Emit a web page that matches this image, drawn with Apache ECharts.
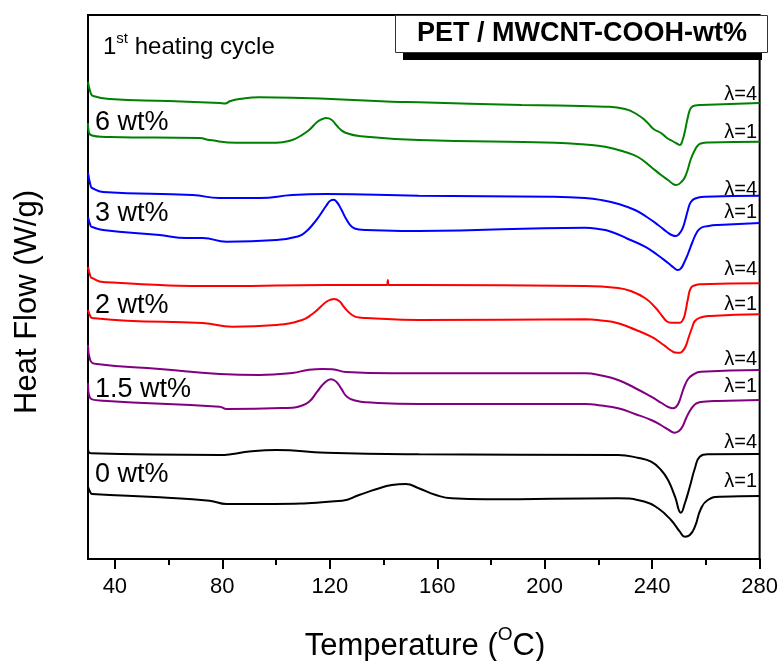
<!DOCTYPE html>
<html>
<head>
<meta charset="utf-8">
<script src="https://cdn.jsdelivr.net/npm/echarts@6/dist/echarts.min.js"></script>
<style>html,body{margin:0;padding:0;background:#fff}#c{width:781px;height:661px}</style>
</head>
<body>
<div id="c"></div>
<script>
// Temperature (°C) vs. heat flow (stacked/offset, arbitrary units)
const xTicks = [40, 80, 120, 160, 200, 240, 280];
const xMinorTicks = [60, 100, 140, 180, 220, 260];

const green4 = [[30.0,477],[31.0,466],[31.9,463],[38.2,460],[60,458],[79.0,456],[81.0,455.5],[83,458],[86.4,460],[93.8,461.7],[106.0,461.3],[143.1,457.3],[153.1,456.7],[191.4,454],[222.5,452.3],[229.9,450],[234.7,444],[238,437],[240.5,430],[243.3,426],[245.5,421],[247.5,418],[249.5,415],[250.3,414],[251.2,418],[252.2,428],[253.3,442],[254.4,451],[256,453.5],[258.1,454],[280,456]];
const green1 = [[30.0,436],[31.0,424],[38.2,422],[71.5,421],[75.3,419],[85.3,416.3],[100.1,416.3],[106.0,419],[109,423],[112.3,429],[115.3,437],[117.3,440],[118.6,441],[120.5,439.5],[122.4,434],[124.2,429],[126.1,426],[130.9,423],[153.1,419],[204.0,416.3],[215,414.5],[222.5,412.3],[229.9,407],[234.7,402],[239.6,392],[243.3,384],[245.9,379],[247.5,375.5],[248.8,374],[250.0,375],[251.2,378],[252.2,382],[253.3,390],[254.4,400],[255.9,409],[257.0,413.5],[258.1,415.5],[261,416.5],[280,417.3]];
const blue4 = [[30.0,386],[31.0,373],[31.5,371],[35.6,367],[68.9,364],[79.0,361],[93.8,361],[106.0,364],[118.6,365],[153.1,363.3],[202.5,362.3],[215,361],[221.0,359],[227.5,355],[233.6,349],[238,342],[242.2,334],[245.5,327],[247.7,323.5],[248.8,323],[250,325],[251.2,330],[252.2,338],[253.3,349],[254.4,357],[256,360.5],[259.6,362.3],[280,363.3]];
const blue1 = [[30.0,342],[31.0,333],[31.5,332],[35.6,329],[56.7,324],[66.7,321],[72.7,321],[81.6,317.3],[100.1,319],[108.6,323],[111,327],[113.5,334],[116.1,343],[118.6,353],[120.3,358.5],[121.4,359.3],[122.6,357],[124.2,350],[126.1,340],[128.3,332],[130.9,329.5],[133.5,329],[153.1,328],[215.1,331.3],[220,330],[224.7,327.3],[231,320],[237.3,312.3],[242,304],[245.9,296],[248.2,291],[249.6,289],[250.8,291],[252,297],[253.3,305],[255,317],[256.5,326],[258.1,331],[261,333],[264.4,334],[280,336]];
const red4 = [[30.0,292],[31.0,282],[31.5,281],[35.6,277],[81.6,273],[118.6,274],[141.3,274],[141.6,279],[141.9,274],[153.1,274],[215.1,273],[227.3,271],[232,268],[237.3,261],[241,252],[244.0,242],[245.5,237.5],[247.0,236.3],[250.3,236.3],[251.4,239],[252.2,245],[253.3,260],[254.4,271],[256,273.8],[258.1,274.7],[280,275.7]];
const red1 = [[30.0,249],[31.0,242],[31.5,241],[44.5,238.3],[72.7,236],[83.8,232.3],[100.1,234],[109.7,239],[113.5,245],[116.1,251],[118.6,257],[120.5,259.5],[121.6,260],[123.5,258],[125.3,252],[128.3,244],[130.9,241.5],[133.5,241],[153.1,239],[215.1,239.7],[221,238.5],[227.3,235.7],[234,229],[239.6,222.3],[243,216.5],[245.5,211.5],[247.3,208],[248.5,206.5],[250.3,206.3],[251.5,208.5],[252.5,213],[253.5,221],[254.8,231],[255.9,238],[258,241.5],[261.8,243],[280,244.7]];
const purple4 = [[30.0,214],[30.8,199],[33.3,195],[56.7,190],[79.0,185],[93.8,184],[106.0,186],[112.3,189.3],[117.2,190],[120.9,189.7],[126.1,187],[143.1,185.7],[215.1,185.7],[221,183.5],[227.3,179],[233.6,171],[239.6,162.3],[243.5,156],[246,152],[247.7,150.7],[249,152.5],[250,157],[251,165],[252.2,174],[253.5,180.5],[255,184],[258.1,187.3],[280,189]];
const purple1 = [[30.0,176],[30.8,161],[35.6,158.3],[79.0,152.3],[81.6,150],[106.0,151.3],[108.6,152.5],[112.3,157.3],[115.3,167.3],[117.9,175.7],[120.5,179.7],[122.4,177.3],[124.2,170.7],[126.4,162.3],[129.8,158.3],[133.5,156.7],[153.1,155],[215.1,155],[221,153.5],[227.3,150.7],[233.6,145],[239.6,139],[243.5,133.5],[246.5,128.5],[248.5,126.3],[250,128],[251.3,132.5],[252.5,140],[254,148],[255.5,153.5],[257.0,156.3],[260,157.5],[264.4,158],[280,159]];
const black4 = [[30.0,111],[31.0,105.7],[79.0,104],[83.8,105],[90,107.5],[100.1,109],[118.6,106.3],[153.1,104.7],[227.3,104],[235,101],[239.6,97.3],[243.3,89],[245.9,79],[248.5,62.3],[250.7,46.3],[252.2,56],[254.0,72.3],[255.9,90.7],[257.7,102.3],[260.7,104.7],[280,105]];
const black1 = [[30.0,72.3],[31.0,66],[31.5,65],[56.7,61.7],[75.3,58.3],[81.6,55],[93.8,55],[124.6,58.3],[130.9,64],[137.2,69.7],[143.1,74],[148.3,75],[153.1,70.7],[159.5,64],[165.4,60.7],[178.0,59.7],[227.3,60.7],[237.3,57.3],[242.2,50.7],[247.0,39],[250.3,27.3],[252.2,22.3],[254.0,24],[255.9,32.3],[258.1,50],[260.7,59],[265.5,62.3],[280,63]];

const seriesList = [
  {name:'6 wt% λ=4', data:green4, color:'#008000'},
  {name:'6 wt% λ=1', data:green1, color:'#008000'},
  {name:'3 wt% λ=4', data:blue4, color:'#0000ff'},
  {name:'3 wt% λ=1', data:blue1, color:'#0000ff'},
  {name:'2 wt% λ=4', data:red4, color:'#ff0000'},
  {name:'2 wt% λ=1', data:red1, color:'#ff0000'},
  {name:'1.5 wt% λ=4', data:purple4, color:'#800080'},
  {name:'1.5 wt% λ=1', data:purple1, color:'#800080'},
  {name:'0 wt% λ=4', data:black4, color:'#000000'},
  {name:'0 wt% λ=1', data:black1, color:'#000000'}
];

const wtLabels = [['6 wt%',122.5],['3 wt%',214],['2 wt%',306],['1.5 wt%',389.5],['0 wt%',475]];
const lamLabels = [['λ=4',94],['λ=1',132],['λ=4',189],['λ=1',212],['λ=4',269],['λ=1',304],['λ=4',359],['λ=1',386],['λ=4',442],['λ=1',481]];

const FONT = '"Liberation Sans", Arial, sans-serif';
const chart = echarts.init(document.getElementById('c'), null, {renderer:'canvas'});

const graphics = [];
wtLabels.forEach(([t,y]) => graphics.push({type:'text', x:95, y:y, z:100,
  style:{text:t, font:'27px ' + FONT, fill:'#000', align:'left', verticalAlign:'middle'}}));
lamLabels.forEach(([t,y]) => graphics.push({type:'text', x:757, y:y, z:100,
  style:{text:t, font:'20px ' + FONT, fill:'#000', align:'right', verticalAlign:'middle'}}));
// heading
graphics.push({type:'text', x:103, y:47.5, z:100, style:{
  text:'{a|1}{s|st}{a| heating cycle}', align:'left', verticalAlign:'middle',
  rich:{a:{fontSize:24, lineHeight:32, fontFamily:FONT, color:'#000'},
        s:{fontSize:15, lineHeight:15, verticalAlign:'top', fontFamily:FONT, color:'#000'}}}});
// title box with shadow
graphics.push({type:'rect', z:98, shape:{x:403, y:53, width:359, height:7}, style:{fill:'#000'}});
graphics.push({type:'rect', z:99, shape:{x:395.5, y:15.5, width:372, height:37}, style:{fill:'#fff', stroke:'#333', lineWidth:1}});
graphics.push({type:'text', x:582, y:34, z:100, style:{text:'PET / MWCNT-COOH-wt%', font:'bold 27px ' + FONT, fill:'#000', align:'center', verticalAlign:'middle'}});
// axis titles
graphics.push({type:'text', x:425, y:646, z:100, style:{
  text:'{a|Temperature (}{s|O}{a|C)}', align:'center', verticalAlign:'middle',
  rich:{a:{fontSize:31, lineHeight:41, fontFamily:FONT, color:'#000'},
        s:{fontSize:19, lineHeight:19, verticalAlign:'top', fontFamily:FONT, color:'#000'}}}});
graphics.push({type:'text', x:27, y:302, rotation:Math.PI/2, z:100, style:{
  text:'Heat Flow (W/g)', font:'31px ' + FONT, fill:'#000', align:'center', verticalAlign:'middle'}});

const option = {
  animation:false,
  backgroundColor:'#fff',
  grid:{left:88, right:19, top:15, bottom:102, show:true, borderColor:'#000', borderWidth:2, backgroundColor:'transparent'},
  xAxis:[{
    type:'value', min:30, max:280,
    axisLine:{show:true, lineStyle:{color:'#000', width:2}},
    axisTick:{show:true, inside:false, length:10, customValues:xTicks, lineStyle:{color:'#000', width:2}},
    axisLabel:{show:true, customValues:xTicks, margin:17, fontSize:22, fontFamily:FONT, color:'#000'},
    splitLine:{show:false}
  },{
    type:'value', min:30, max:280, position:'bottom',
    axisLine:{show:false},
    axisTick:{show:true, inside:false, length:6, customValues:xMinorTicks, lineStyle:{color:'#000', width:2}},
    axisLabel:{show:false},
    splitLine:{show:false}
  }],
  yAxis:{
    type:'value', min:0, max:544,
    axisLine:{show:true, lineStyle:{color:'#000', width:2}},
    axisTick:{show:false}, axisLabel:{show:false}, splitLine:{show:false}
  },
  series: seriesList.map(s => ({
    type:'line', name:s.name, data:s.data, xAxisIndex:0, showSymbol:false, symbol:'none',
    smooth:0.5, clip:true,
    lineStyle:{color:s.color, width:2}, itemStyle:{color:s.color}
  })),
  graphic: graphics
};
chart.setOption(option);
</script>
</body>
</html>
